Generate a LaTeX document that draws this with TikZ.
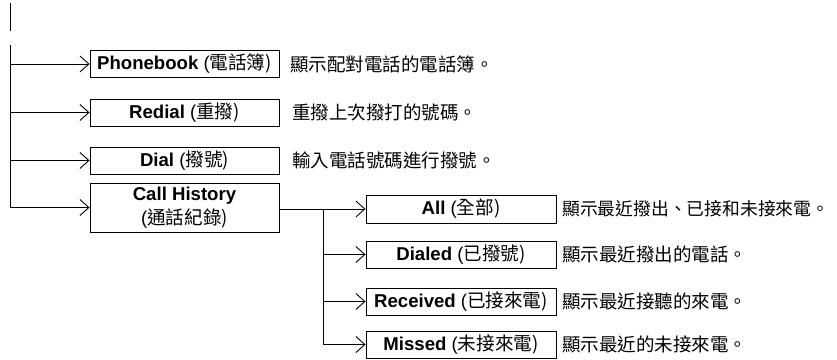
\documentclass[tikz,border=0pt]{standalone}
\usepackage{fontspec}
\setmainfont{Liberation Sans}
\newfontfamily\cjk{Noto Sans CJK TC}
\usetikzlibrary{arrows.meta}
\begin{document}
\begin{tikzpicture}[x=1pt,y=-1pt,
  box/.style={draw=black, line width=0.9pt, minimum width=189pt, minimum height=27pt, inner sep=0pt, font=\fontsize{18.6}{24}\selectfont, align=center},
  desc/.style={anchor=west, inner sep=0pt, font=\fontsize{18.5}{22}\selectfont\cjk},
  link/.style={line width=0.9pt, -{Straight Barb[length=9pt,width=16pt]}},
  trunk/.style={line width=0.9pt}]
\useasboundingbox (0,0) rectangle (837,359);
% top stub
\coordinate (s1) at (10,3);
\coordinate (s2) at (10,31);
\draw[trunk] (s1) -- (s2);
% boxes
\node[box] (ph) at (184.5,64) {\textbf{Phonebook} (\cjk{電話簿})};
\node[box] (re) at (184.5,112.5) {\textbf{Redial} (\cjk{重撥})};
\node[box] (dl) at (184.5,160.5) {\textbf{Dial} (\cjk{撥號})};
\node[box, minimum height=49pt] (ch) at (184.5,207.5) {\textbf{Call History}\\(\cjk{通話紀錄})};
\node[box, minimum width=190pt, minimum height=28pt] (al) at (461,209) {\textbf{All} (\cjk{全部})};
\node[box, minimum width=190pt] (di) at (461,254.5) {\textbf{Dialed} (\cjk{已撥號})};
\node[box, minimum width=190pt] (rc) at (461,301.5) {\textbf{Received} (\cjk{已接來電})};
\node[box, minimum width=190pt] (mi) at (461,344.5) {\textbf{Missed} (\cjk{未接來電})};
% descriptions
\node[desc] (dph) at (290,64) {顯示配對電話的電話簿。};
\node[desc] (dre) at (292,112.5) {重撥上次撥打的號碼。};
\node[desc] (ddl) at (292,160.5) {輸入電話號碼進行撥號。};
\node[desc, font=\fontsize{17.8}{22}\selectfont\cjk] (dal) at (562,209) {顯示最近撥出、已接和未接來電。};
\node[desc] (ddi) at (562,254.5) {顯示最近撥出的電話。};
\node[desc] (drc) at (562,301.5) {顯示最近接聽的來電。};
\node[desc] (dmi) at (562,344.5) {顯示最近的未接來電。};
% main trunk
\coordinate (t0) at (10,45);
\draw[trunk] (t0) -- (t0 |- ch.west);
\draw[link] (t0 |- ph.west) -- (ph.west);
\draw[link] (t0 |- re.west) -- (re.west);
\draw[link] (t0 |- dl.west) -- (dl.west);
\draw[link] (t0 |- ch.west) -- (ch.west);
% sub trunk
\coordinate (j1) at (323,209);
\draw[link] (ch.east |- al.west) -- (al.west);
\draw[trunk] (j1) -- (j1 |- mi.west);
\draw[link] (j1 |- di.west) -- (di.west);
\draw[link] (j1 |- rc.west) -- (rc.west);
\draw[link] (j1 |- mi.west) -- (mi.west);
\end{tikzpicture}
\end{document}
